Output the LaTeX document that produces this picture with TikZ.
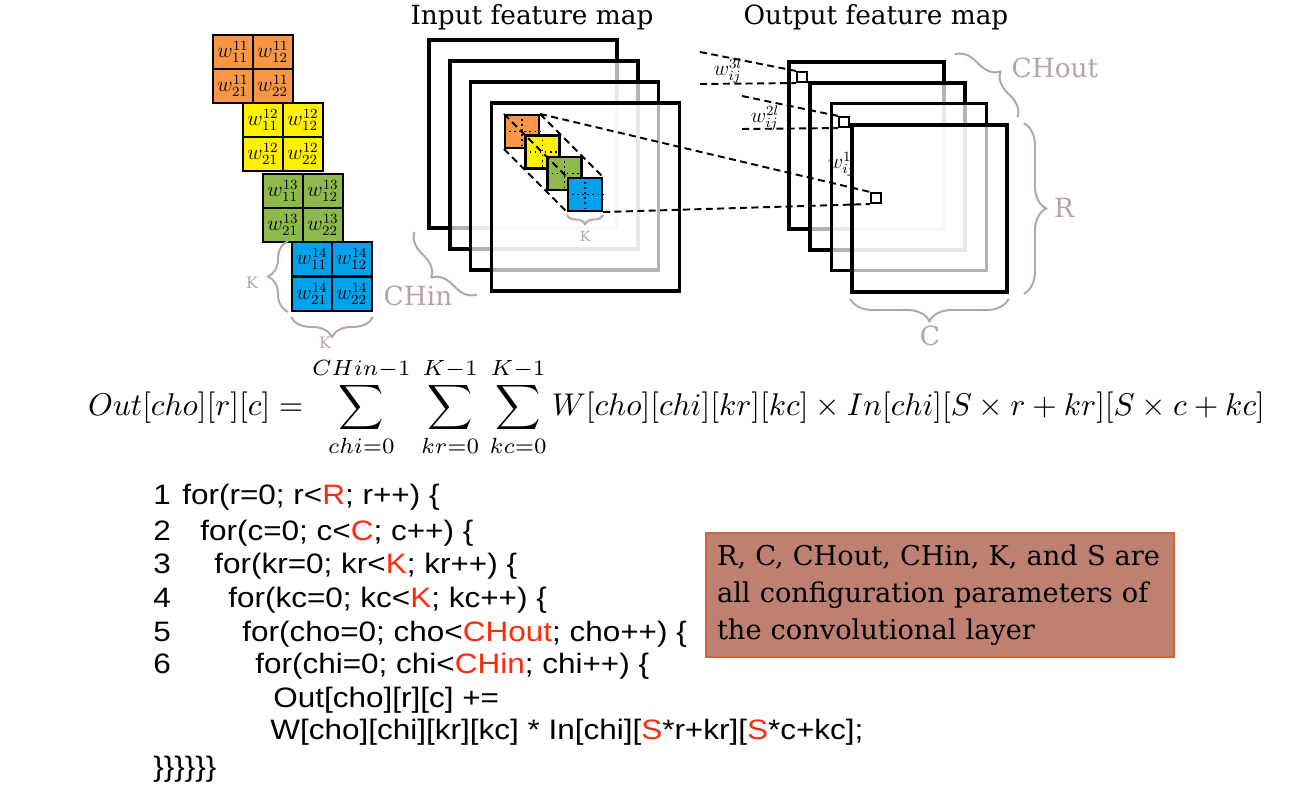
\documentclass[tikz,border=0pt]{standalone}
\usepackage{fontspec}
\usepackage{graphicx}
\usetikzlibrary{decorations.pathreplacing}
\newfontfamily\slabfont{DejaVu Serif}
\newfontfamily\codefont[FakeStretch=1.12]{Liberation Sans}
\definecolor{korange}{HTML}{F79646}
\definecolor{kyellow}{HTML}{FFEF00}
\definecolor{kgreen}{HTML}{8DB94D}
\definecolor{kblue}{HTML}{00A2EC}
\definecolor{bracegray}{HTML}{B9A2A2}
\definecolor{codered}{HTML}{FF2A0A}
\definecolor{notefill}{HTML}{BE8171}
\definecolor{noteedge}{HTML}{D0683C}
\newcommand{\hl}[1]{\textcolor{codered}{#1}}

\begin{document}
\begin{tikzpicture}[
  x=0.02cm, y=-0.02cm,
  wcell/.style={draw, line width=1.1pt, minimum width=0.8cm, minimum height=0.68cm, inner sep=0pt, font=\fontsize{12}{12}\selectfont},
  fmap/.style={draw, line width=2pt, fill=white, fill opacity=0.7, inner sep=0pt},
  inmap/.style={fmap, minimum width=3.76cm, minimum height=3.76cm},
  outmap/.style={fmap, minimum width=3.1cm, minimum height=3.34cm},
  smallk/.style={draw, line width=1.2pt, minimum width=0.68cm, minimum height=0.66cm, inner sep=0pt},
  outpix/.style={draw, fill=white, line width=1.2pt, minimum size=0.2cm, inner sep=0pt},
  dline/.style={dash pattern=on 4pt off 2.5pt, line width=1.1pt},
  dims/.style={decorate, decoration={brace, amplitude=#1}, draw=bracegray, line width=1.1pt},
  dimlabel/.style={text=bracegray, inner sep=0pt, font=\slabfont\fontsize{15}{15}\selectfont},
  smalldim/.style={text=bracegray, inner sep=0pt, font=\slabfont\fontsize{9}{9}\selectfont},
  title/.style={inner sep=0pt, font=\slabfont\fontsize{15}{15}\selectfont},
  wlabel/.style={inner sep=0pt, font=\fontsize{12}{12}\selectfont},
  codeline/.style={anchor=base west, inner sep=0pt, font=\codefont\fontsize{16}{16}\selectfont},
]
\useasboundingbox (0,0) rectangle (1296,790);

% === WEIGHT KERNELS ===
\node[wcell, fill=korange] (ko1) at (233,52) {$w^{11}_{11}$};
\node[wcell, fill=korange] (ko2) at (273,52) {$w^{11}_{12}$};
\node[wcell, fill=korange] (ko3) at (233,86) {$w^{11}_{21}$};
\node[wcell, fill=korange] (ko4) at (273,86) {$w^{11}_{22}$};

\node[wcell, fill=kyellow] (ky1) at (263,120) {$w^{12}_{11}$};
\node[wcell, fill=kyellow] (ky2) at (303,120) {$w^{12}_{12}$};
\node[wcell, fill=kyellow] (ky3) at (263,154) {$w^{12}_{21}$};
\node[wcell, fill=kyellow] (ky4) at (303,154) {$w^{12}_{22}$};

\node[wcell, fill=kgreen] (kg1) at (283,191) {$w^{13}_{11}$};
\node[wcell, fill=kgreen] (kg2) at (323,191) {$w^{13}_{12}$};
\node[wcell, fill=kgreen] (kg3) at (283,225) {$w^{13}_{21}$};
\node[wcell, fill=kgreen] (kg4) at (323,225) {$w^{13}_{22}$};

\node[wcell, fill=kblue] (kb1) at (312,259) {$w^{14}_{11}$};
\node[wcell, fill=kblue] (kb2) at (352,259) {$w^{14}_{12}$};
\node[wcell, fill=kblue] (kb3) at (312,294) {$w^{14}_{21}$};
\node[wcell, fill=kblue] (kb4) at (352,294) {$w^{14}_{22}$};

\draw[dims=0.4cm] ([xshift=-0.06cm]kb3.south west) -- ([xshift=-0.06cm]kb1.north west);
\draw[dims=0.4cm] ([yshift=-0.1cm]kb4.south east) -- ([yshift=-0.1cm]kb3.south west);
\node[smalldim] (kleft) at (252,283) {K};
\node[smalldim] (kbottom) at (325,343) {K};

% === INPUT FEATURE MAP ===
\node[title] (intitle) at (532,17) {Input feature map};
\node[inmap] (if1) at (523,134) {};
\node[inmap] (if2) at (544,155) {};
\node[inmap] (if3) at (564.5,176) {};
\node[inmap] (if4) at (585.5,197) {};

\node[smallk, fill=korange] (io) at (522,131.5) {};
\node[smallk, fill=kyellow] (iy) at (542.5,152) {};
\node[smallk, fill=kgreen] (ig) at (564.5,173.5) {};
\node[smallk, fill=kblue] (ib) at (585,194.5) {};
\foreach \k in {io,iy,ig,ib}
  \draw[dotted, line width=0.9pt] (\k.north) -- (\k.south) (\k.west) -- (\k.east);

\draw[dline] (io.north west) -- (ib.north west);
\draw[dline] (io.north east) -- (ib.north east);
\draw[dline] (io.south west) -- (ib.south west);

\draw[dims=0.18cm] ([yshift=-0.06cm]ib.south east) -- ([yshift=-0.06cm]ib.south west);
\node[smalldim, font=\slabfont\fontsize{8}{8}\selectfont] (kin) at (585,236) {K};

\draw[dims=0.4cm] ([shift={(-0.26cm,-0.04cm)}]if4.south west) -- ([shift={(-0.26cm,-0.04cm)}]if1.south west);
\node[dimlabel] (chin) at (418,296) {CHin};

% === OUTPUT FEATURE MAP ===
\node[title] (outtitle) at (876,17) {Output feature map};
\node[outmap] (of1) at (866.5,145.5) {};
\node[outmap] (of2) at (887.5,166.5) {};
\node[outmap] (of3) at (909,187) {};
\node[outmap] (of4) at (929.5,208.5) {};

\node[outpix] (os1) at (802,77) {};
\node[outpix] (os3) at (844,122) {};
\node[outpix] (os4) at (876,198) {};

\node[wlabel] (w3) at (728,71) {$w^{3l}_{ij}$};
\node[wlabel] (w2) at (765,118) {$w^{2l}_{ij}$};
\node[wlabel] (w1) at (842,164) {$w^{1l}_{ij}$};

\draw[dims=0.4cm] ([shift={(0.18cm,0.12cm)}]of1.north east) -- ([shift={(0.18cm,0.12cm)}]of4.north east);
\node[dimlabel] (chout) at (1055,68) {CHout};
\draw[dims=0.45cm] ([xshift=0.3cm]of4.north east) -- ([xshift=0.3cm]of4.south east);
\node[dimlabel] (rlab) at (1064,208) {R};
\draw[dims=0.45cm] ([yshift=-0.1cm]of4.south east) -- ([yshift=-0.1cm]of4.south west);
\node[dimlabel] (clab) at (930,336) {C};

% === MAPPING LINES ===
\coordinate (w3a) at (700,52);
\coordinate (w3b) at (700,84);
\coordinate (w2a) at (742,96);
\coordinate (w2b) at (742,129);
\draw[dline] (w3a) -- (os1.north west);
\draw[dline] (w3b) -- (os1.south west);
\draw[dline] (w2a) -- (os3.north west);
\draw[dline] (w2b) -- (os3.south west);
\draw[dline] (io.north east) -- (os4.north west);
\draw[dline] (ib.south east) -- (os4.south west);

% === EQUATION ===
\node[inner sep=0pt] (eqn) at (676.5,407) {\resizebox{23.54cm}{!}{$\displaystyle
  Out[cho][r][c] = \sum_{chi=0}^{CHin-1}\,\sum_{kr=0}^{K-1}\,\sum_{kc=0}^{K-1} W[cho][chi][kr][kc]\times In[chi][S\times r+kr][S\times c+kc]$}};

% === LOOP NEST ===
\node[codeline] (n1) at (153,505) {1};
\node[codeline] (n2) at (153,541) {2};
\node[codeline] (n3) at (153,574) {3};
\node[codeline] (n4) at (153,608) {4};
\node[codeline] (n5) at (153,642) {5};
\node[codeline] (n6) at (153,674) {6};
\node[codeline] (c1) at (182,505) {for(r=0; r<\hl{R}; r++) \{};
\node[codeline] (c2) at (200,541) {for(c=0; c<\hl{C}; c++) \{};
\node[codeline] (c3) at (214,574) {for(kr=0; kr<\hl{K}; kr++) \{};
\node[codeline] (c4) at (228,608) {for(kc=0; kc<\hl{K}; kc++) \{};
\node[codeline] (c5) at (242,642) {for(cho=0; cho<\hl{CHout}; cho++) \{};
\node[codeline] (c6) at (255,674) {for(chi=0; chi<\hl{CHin}; chi++) \{};
\node[codeline] (c7) at (273,707) {Out[cho][r][c] +=};
\node[codeline] (c8) at (270,740) {W[cho][chi][kr][kc] * In[chi][\hl{S}*r+kr][\hl{S}*c+kc];};
\node[codeline] (c9) at (153,776) {\}\}\}\}\}\}};

% === NOTE ===
\node[draw=noteedge, fill=notefill, line width=0.8pt, minimum width=9.36cm, minimum height=2.48cm,
      inner xsep=0.22cm, text width=8.92cm, align=left,
      font=\slabfont\fontsize{15.5}{21}\selectfont] (note) at (940,595)
  {R, C, CHout, CHin, K, and S are\\all configuration parameters of\\the convolutional layer};
\end{tikzpicture}
\end{document}
